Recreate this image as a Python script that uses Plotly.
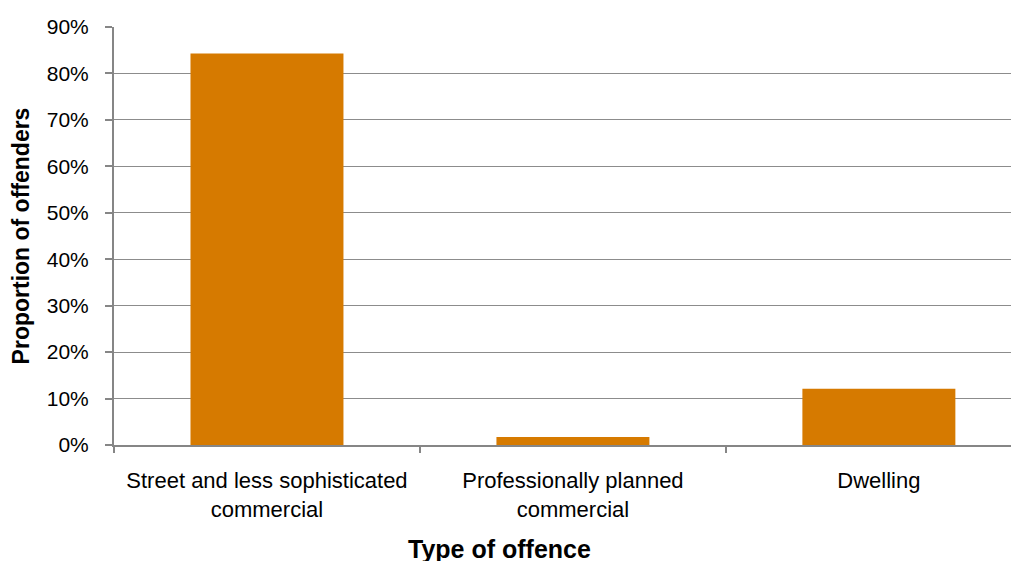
import plotly.graph_objects as go

categories = ["Street and less sophisticated<br>commercial", "Professionally planned<br>commercial", "Dwelling"]
values = [0.843, 0.017, 0.121]
ytick_vals = [0, 0.1, 0.2, 0.3, 0.4, 0.5, 0.6, 0.7, 0.8, 0.9]
ytick_text = ["0%", "10%", "20%", "30%", "40%", "50%", "60%", "70%", "80%", "90%"]
x_title = "Type of offence"
y_title = "Proportion of offenders"

fig = go.Figure(go.Bar(x=categories, y=values, marker_color="#D67A00", marker_line_width=0))

fig.update_layout(
    width=1019, height=561,
    margin=dict(l=106, r=8, t=19, b=124),
    paper_bgcolor="white", plot_bgcolor="white",
    bargap=0.5,
    font=dict(family="Liberation Sans, Arial, sans-serif", size=21, color="#000000"),
    showlegend=False,
)
fig.update_xaxes(
    range=[-0.5, 2.458],
    automargin=False,
    showline=True, linecolor="#868686", linewidth=2,
    ticks="outside", tickson="boundaries", ticklen=6, tickcolor="#868686", tickwidth=1.5,
    showgrid=False,
    tickfont=dict(size=22),
    ticklabelstandoff=15,
)
fig.update_yaxes(
    range=[0, 0.9],
    automargin=False,
    tickvals=ytick_vals, ticktext=ytick_text,
    showline=True, linecolor="#868686", linewidth=2,
    ticks="outside", ticklen=7, tickcolor="#868686", tickwidth=1.5,
    showgrid=True, gridcolor="#8c8c8c", gridwidth=1.2,
    zeroline=False,
    title=dict(text="<b>" + y_title + "</b>", font=dict(size=23), standoff=16),
    tickfont=dict(size=21),
    ticklabelstandoff=12,
)
fig.add_annotation(
    text="<b>" + x_title + "</b>", xref="paper", yref="paper",
    x=0.4265, y=-0.249, xanchor="center", yanchor="middle",
    showarrow=False, font=dict(size=25),
)

fig.write_html("out.html")
